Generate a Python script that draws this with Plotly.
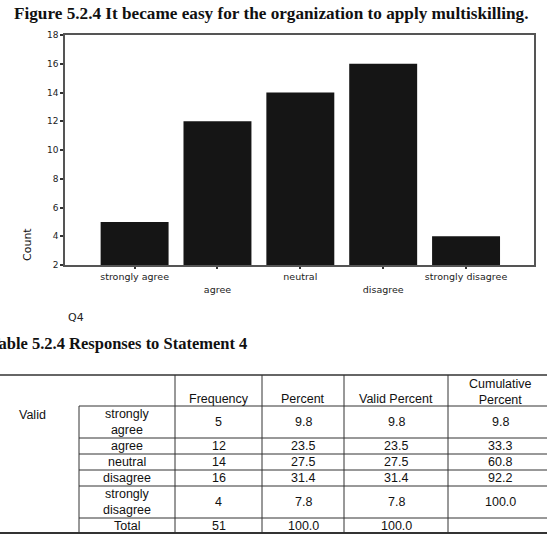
import plotly.graph_objects as go

# ---------------- data ----------------
categories = ["strongly agree", "agree", "neutral", "disagree", "strongly disagree"]
counts = [5, 12, 14, 16, 4]
tick_text = ["strongly agree", "<br>agree", "neutral", "<br>disagree", "strongly disagree"]
y_ticks = [2, 4, 6, 8, 10, 12, 14, 16, 18]

table_headers = ["Frequency", "Percent", "Valid Percent", "Cumulative<br>Percent"]
row_labels = ["strongly<br>agree", "agree", "neutral", "disagree", "strongly<br>disagree", "Total"]
frequency = ["5", "12", "14", "16", "4", "51"]
percent = ["9.8", "23.5", "27.5", "31.4", "7.8", "100.0"]
valid_percent = ["9.8", "23.5", "27.5", "31.4", "7.8", "100.0"]
cumulative_percent = ["9.8", "33.3", "60.8", "92.2", "100.0", ""]

title_text = "Figure 5.2.4 It became easy for the organization to apply multiskilling."
table_title = "Table 5.2.4 Responses to Statement 4"

# ---------------- layout geometry (pixels) ----------------
W, H = 547, 542
PL, PR, PT, PB = 65, 534, 35, 265


def px(x):
    return (x - PL) / (PR - PL)


def py(y):
    return (PB - y) / (PB - PT)


fig = go.Figure()
fig.add_trace(go.Bar(
    x=categories, y=counts, marker=dict(color="#151515", line=dict(width=0)),
    width=0.82, showlegend=False,
))

axis_font = dict(family="DejaVu Sans", size=9.5, color="#222")

fig.update_layout(
    width=W, height=H,
    margin=dict(l=PL, r=W - PR, t=PT, b=H - PB),
    paper_bgcolor="white", plot_bgcolor="white",
    xaxis=dict(
        type="category", range=[-0.84, 4.82],
        tickvals=categories, ticktext=tick_text,
        showline=True, mirror=True, linecolor="#555", linewidth=1.5,
        ticks="outside", ticklen=2, tickcolor="#333", tickwidth=2,
        showgrid=False, tickfont=axis_font, fixedrange=True,
    ),
    yaxis=dict(
        range=[2, 18], tickvals=y_ticks,
        showline=True, mirror=True, linecolor="#555", linewidth=1.5,
        ticks="outside", ticklen=3, tickcolor="#333", tickwidth=2,
        showgrid=False, zeroline=False,
        tickfont=dict(family="DejaVu Sans", size=9, color="#222"),
    ),
)

ann = []
ann.append(dict(text="<b>" + title_text + "</b>", x=px(271), y=py(13), xref="paper", yref="paper",
                showarrow=False, font=dict(family="Liberation Serif", size=17.2, color="#111"),
                xanchor="center", yanchor="middle"))
ann.append(dict(text="Count", x=px(27), y=py(245), xref="paper", yref="paper", textangle=-90,
                showarrow=False, font=dict(family="DejaVu Sans", size=11, color="#111"),
                xanchor="center", yanchor="middle"))
ann.append(dict(text="Q4", x=px(66), y=py(317), xref="paper", yref="paper",
                showarrow=False, font=dict(family="DejaVu Sans", size=11, color="#222"),
                xanchor="left", yanchor="middle"))
ann.append(dict(text="<b>" + table_title + "</b>", x=px(249), y=py(343), xref="paper", yref="paper",
                showarrow=False, font=dict(family="Liberation Serif", size=16.5, color="#111"),
                xanchor="right", yanchor="middle"))

# ---------------- table ----------------
shapes = []
line_c = "#333"


def hline(y, x0, x1, w=1.0):
    shapes.append(dict(type="line", xref="paper", yref="paper", x0=px(x0), x1=px(x1),
                       y0=py(y), y1=py(y), line=dict(color=line_c, width=w)))


def vline(x, y0, y1, w=1.0):
    shapes.append(dict(type="line", xref="paper", yref="paper", x0=px(x), x1=px(x),
                       y0=py(y0), y1=py(y1), line=dict(color=line_c, width=w)))


t_top, t_head, t_bot = 375, 406, 533
row_edges = [406, 438, 454, 470, 486, 518, 533]
col_edges = [0, 79, 175, 262, 344, 448, 552]

hline(t_top, 0, W, 1.5)
hline(t_bot, 0, W, 1.8)
hline(t_head, col_edges[1], W)
for y in row_edges[1:-1]:
    hline(y, col_edges[1], W)
vline(col_edges[1], t_head, t_bot)
for x in col_edges[2:-1]:
    vline(x, t_top, t_bot)

tfont = dict(family="Liberation Sans", size=12.5, color="#111")


def cell(text, x, y, anchor="center"):
    ann.append(dict(text=text, x=px(x), y=py(y), xref="paper", yref="paper", showarrow=False,
                    font=tfont, xanchor=anchor, yanchor="middle", align="center"))


for i, h in enumerate(table_headers):
    cx = (col_edges[i + 2] + col_edges[i + 3]) / 2
    cell(h, cx, 392 if "<br>" in h else 399)

cell("Valid", 32, 415)
columns = [frequency, percent, valid_percent, cumulative_percent]
for r, lab in enumerate(row_labels):
    cy = (row_edges[r] + row_edges[r + 1]) / 2
    cell(lab, (col_edges[1] + col_edges[2]) / 2, cy)
    for c, col in enumerate(columns):
        cx = (col_edges[c + 2] + col_edges[c + 3]) / 2
        cell(col[r], cx, cy)

fig.update_layout(annotations=ann, shapes=shapes)
fig.write_html("out.html")
